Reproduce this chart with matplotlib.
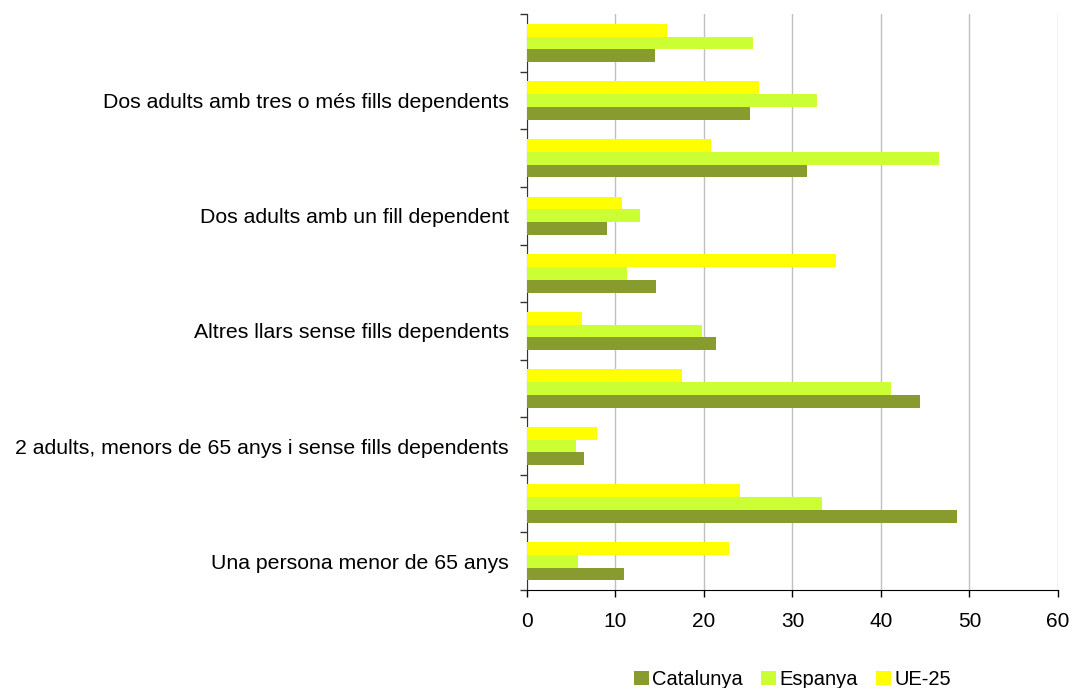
import matplotlib
matplotlib.use("Agg")
import matplotlib.pyplot as plt
import numpy as np

plt.rcParams["font.family"] = ["Liberation Sans", "DejaVu Sans"]

# categories from bottom to top; Excel skipped every other label
categories = [
    "Una persona menor de 65 anys",
    "",
    "2 adults, menors de 65 anys i sense fills dependents",
    "",
    "Altres llars sense fills dependents",
    "",
    "Dos adults amb un fill dependent",
    "",
    "Dos adults amb tres o més fills dependents",
    "",
]
catalunya = [11.0, 48.6, 6.4, 44.4, 21.4, 14.6, 9.0, 31.6, 25.2, 14.5]
espanya = [5.8, 33.3, 5.5, 41.1, 19.8, 11.3, 12.8, 46.6, 32.8, 25.5]
ue25 = [22.8, 24.1, 7.9, 17.5, 6.2, 34.9, 10.7, 20.8, 26.2, 15.8]

series = ["Catalunya", "Espanya", "UE-25"]
colors = ["#879B2F", "#CCFF33", "#FFFF00"]

fig = plt.figure(figsize=(10.72, 6.88), dpi=100)
ax = fig.add_axes([0.4916, 0.1424, 0.4953, 0.8368])

y = np.arange(len(categories))
h = 0.222
for i, (vals, name, c) in enumerate(zip([catalunya, espanya, ue25], series, colors)):
    ax.barh(y + (i - 1) * h, vals, height=h, color=c, label=name, zorder=3)

ax.set_xlim(0, 60)
ax.set_ylim(-0.5, len(categories) - 0.5)
ax.set_xticks(np.arange(0, 61, 10))
ax.xaxis.grid(True, color="#C0C0C0", linewidth=1, zorder=0)

# ticks at category boundaries, labels at the centres
ax.set_yticks(np.arange(-0.5, len(categories), 1.0))
ax.set_yticklabels([])
ax.set_yticks(y, minor=True)
ax.set_yticklabels(categories, minor=True)
ax.tick_params(axis="y", which="major", length=5, width=1, color="#333333")
ax.tick_params(axis="y", which="minor", length=0, pad=13, labelsize=15.3)
ax.tick_params(axis="x", length=5, width=1, pad=11, labelsize=15)

for s in ["top", "right"]:
    ax.spines[s].set_visible(False)
ax.spines["left"].set_color("#333333")
ax.spines["bottom"].set_color("#000000")

ax.legend(loc="upper center", bbox_to_anchor=(0.5, -0.125), ncol=3, frameon=False,
          fontsize=14.5, handlelength=0.75, handleheight=0.75, handletextpad=0.15,
          columnspacing=0.9, borderaxespad=0)

fig.savefig("out.png", dpi=100)
